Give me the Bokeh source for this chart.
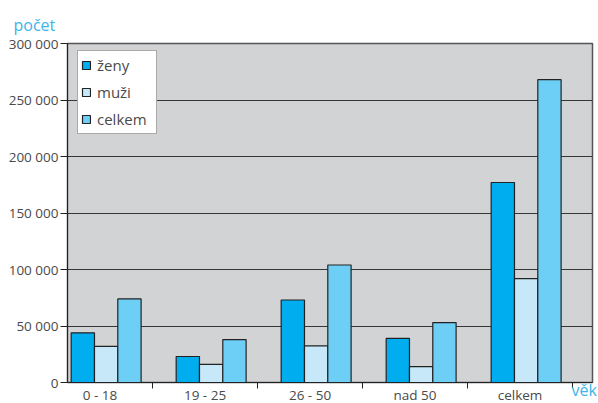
from bokeh.plotting import figure
from bokeh.models import ColumnDataSource, Range1d, FixedTicker, Legend, LegendItem
from bokeh.embed import file_html
from bokeh.resources import INLINE

categories = ["0 - 18", "19 - 25", "26 - 50", "nad 50", "celkem"]
zeny = [44000, 23000, 73000, 39000, 177000]
muzi = [32000, 16000, 32500, 14000, 92000]
celkem = [74000, 38000, 104000, 53000, 268000]
series_names = ["ženy", "muži", "celkem"]
y_ticks = [0, 50000, 100000, 150000, 200000, 250000, 300000]
y_tick_labels = ["0", "50 000", "100 000", "150 000", "200 000", "250 000", "300 000"]
y_label = "počet"
x_label = "věk"

colors = ["#00aeef", "#c6e8f8", "#6dcff6"]
FONT = "Open Sans"
TXT = "#4a4a4a"
BLUE = "#3cb5e8"

idx = list(range(len(categories)))
centers = [i + 0.5 for i in idx]
bar_w = 0.222
shift = 0.058

p = figure(width=598, height=403, output_backend="svg", toolbar_location=None,
           x_range=Range1d(0.19, 5.19), y_range=Range1d(0, 300000),
           min_border_left=67, min_border_right=6, min_border_top=43, min_border_bottom=21)

p.background_fill_color = "#d2d3d5"
p.border_fill_color = "white"
p.outline_line_color = "#555555"
p.outline_line_width = 1.5

p.title.text = y_label
p.title.align = "left"
p.title.offset = -54
p.title.text_font = FONT
p.title.text_font_size = "16px"
p.title.text_font_style = "normal"
p.title.text_color = BLUE
p.title.standoff = 15

p.xgrid.visible = False
p.ygrid.ticker = FixedTicker(ticks=y_ticks)
p.ygrid.grid_line_color = "#363636"
p.ygrid.grid_line_width = 1.1

series = [zeny, muzi, celkem]
renderers = []
for k, (vals, col) in enumerate(zip(series, colors)):
    xs = [c + shift + (k - 1) * bar_w for c in centers]
    src = ColumnDataSource(dict(x=xs, top=vals))
    r = p.vbar(x="x", top="top", bottom=0, width=bar_w, source=src,
               fill_color=col, line_color="#222222", line_width=1.2)
    renderers.append(r)

# y axis
p.yaxis.ticker = FixedTicker(ticks=y_ticks)
p.yaxis.major_label_overrides = {t: l for t, l in zip(y_ticks, y_tick_labels)}
p.yaxis.major_tick_out = 7
p.yaxis.major_tick_in = 0
p.yaxis.minor_tick_out = 0
p.yaxis.minor_tick_in = 0
p.yaxis.major_label_standoff = 2
p.yaxis.axis_line_color = "#222222"
p.yaxis.major_tick_line_color = "#222222"
p.yaxis.major_label_text_font = FONT
p.yaxis.major_label_text_font_size = "13.5px"
p.yaxis.major_label_text_color = TXT

# x axis: labels at category centres, tick marks at category boundaries
p.xaxis.ticker = FixedTicker(ticks=centers, minor_ticks=[i + 1 for i in idx])
p.xaxis.major_label_overrides = {c: l for c, l in zip(centers, categories)}
p.xaxis.major_tick_out = 0
p.xaxis.major_tick_in = 0
p.xaxis.minor_tick_out = 0
p.xaxis.minor_tick_in = -6
p.xaxis.minor_tick_line_color = "#222222"
p.xaxis.axis_line_color = "#222222"
p.xaxis.major_label_standoff = 3
p.xaxis.major_label_text_font = FONT
p.xaxis.major_label_text_font_size = "13.5px"
p.xaxis.major_label_text_color = TXT
# axis title sits at the right end, on the line of the category labels
p.xaxis.axis_label = x_label + "\u00a0\u00a0\u00a0\u00a0"
p.xaxis.axis_label_align = "end"
p.xaxis.axis_label_standoff = -28
p.xaxis.axis_label_text_font = FONT
p.xaxis.axis_label_text_font_size = "16px"
p.xaxis.axis_label_text_font_style = "normal"
p.xaxis.axis_label_text_color = BLUE

legend = Legend(items=[LegendItem(label=n, renderers=[r]) for n, r in zip(series_names, renderers)],
                location=(10, 248))
legend.background_fill_color = "white"
legend.background_fill_alpha = 1
legend.border_line_color = "#555555"
legend.border_line_width = 1.5
legend.label_text_font = FONT
legend.label_text_font_size = "15px"
legend.label_text_color = TXT
legend.glyph_width = 10
legend.glyph_height = 10
legend.label_height = 22
legend.label_width = 56
legend.spacing = 5
legend.padding = 3
legend.margin = 0
legend.label_standoff = 6
p.add_layout(legend, "center")

open("out.html", "w").write(file_html(p, INLINE))
